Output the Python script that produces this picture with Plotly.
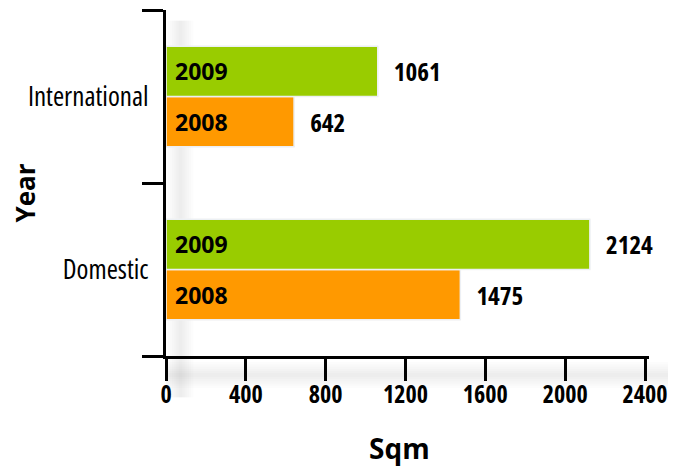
import plotly.graph_objects as go

categories = ["Domestic", "International"]
years = ["2008", "2009"]
values_2008 = [1475, 642]
values_2009 = [2124, 1061]
x_ticks = [0, 400, 800, 1200, 1600, 2000, 2400]

colors = {"2008": "#FF9900", "2009": "#99CC00"}
series = {"2008": values_2008, "2009": values_2009}

FONT = "Open Sans, DejaVu Sans, sans-serif"


def cond(s, weight="bold"):
    return '<span style="font-stretch:condensed;font-weight:%s">%s</span>' % (weight, s)


fig = go.Figure()
for yr in years:
    vals = series[yr]
    fig.add_trace(go.Bar(
        y=categories, x=vals, orientation="h", offsetgroup=yr,
        marker=dict(color=colors[yr], line=dict(color="#F2F2F2", width=1.5)),
        text=[" " + yr] * len(vals), textposition="inside", insidetextanchor="start",
        textfont=dict(family=FONT, size=23, color="black", weight="bold"),
        hoverinfo="skip", showlegend=False, cliponaxis=False,
    ))
    fig.add_trace(go.Bar(
        y=categories, x=vals, orientation="h", offsetgroup=yr,
        marker=dict(color="rgba(0,0,0,0)"),
        text=["  " + cond(str(v)) for v in vals], textposition="outside",
        textfont=dict(family=FONT, size=25, color="black", weight="bold"),
        hoverinfo="skip", showlegend=False, cliponaxis=False,
    ))

# soft blurred shadows along the axes
shapes = []
for i in range(6):
    w = 2 + 2.2 * i
    a = 0.013
    shapes.append(dict(type="rect", xref="paper", yref="paper", layer="below",
                       x0=0.03 - w / 483, x1=0.03 + w / 483, y0=-0.12, y1=0.97,
                       fillcolor="rgba(0,0,0,%g)" % a, line=dict(width=0)))
    shapes.append(dict(type="rect", xref="paper", yref="paper", layer="below",
                       x0=0.0, x1=1.04, y0=-0.055 - w / 346, y1=-0.055 + w / 346,
                       fillcolor="rgba(0,0,0,%g)" % a, line=dict(width=0)))

annotations = [
    dict(text="Year", xref="paper", yref="paper", x=-0.291, y=0.471, textangle=-90,
         showarrow=False, xanchor="center", yanchor="middle", borderpad=0,
         font=dict(family=FONT, size=26, color="black", weight="bold")),
    dict(text="Sqm", xref="paper", yref="paper", x=0.484, y=-0.266,
         showarrow=False, xanchor="center", yanchor="middle",
         font=dict(family=FONT, size=28, color="black", weight="bold")),
]

fig.update_layout(
    width=671, height=458,
    margin=dict(l=158, r=30, t=2, b=110, autoexpand=False),
    paper_bgcolor="white", plot_bgcolor="rgba(0,0,0,0)",
    barmode="group", bargap=0.42, bargroupgap=0,
    font=dict(family=FONT, color="black"),
    shapes=shapes, annotations=annotations,
)
fig.update_xaxes(
    range=[0, 2420], tickvals=x_ticks, ticktext=[cond(str(t)) for t in x_ticks],
    showgrid=False, zeroline=False, automargin=False,
    showline=True, linecolor="black", linewidth=3,
    ticks="outside", ticklen=22, tickwidth=3, tickcolor="black", ticklabelstandoff=-7,
    tickfont=dict(family=FONT, size=24, color="black", weight="bold"),
)
fig.update_yaxes(
    categoryorder="array", categoryarray=categories,
    tickvals=categories, ticktext=[cond(c, "normal") for c in categories],
    showgrid=False, zeroline=False, automargin=False,
    showline=True, linecolor="black", linewidth=3,
    ticks="outside", tickson="boundaries", ticklen=21, tickwidth=3, tickcolor="black",
    ticklabelstandoff=9,
    tickfont=dict(family=FONT, size=27, color="black"),
)

fig.write_html("out.html")
